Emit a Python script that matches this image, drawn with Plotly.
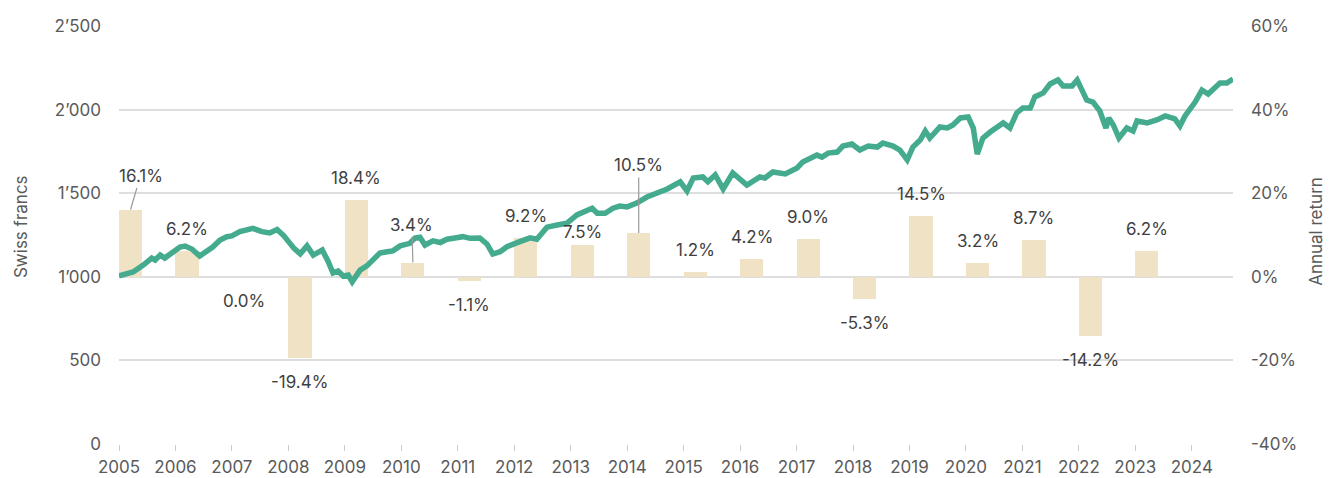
import plotly.graph_objects as go

# ---- data ----
years = list(range(2005, 2024))
annual_return = [16.1, 6.2, 0.0, -19.4, 18.4, 3.4, -1.1, 9.2, 7.5, 10.5,
                 1.2, 4.2, 9.0, -5.3, 14.5, 3.2, 8.7, -14.2, 6.2]

t = [2005.00, 2005.25, 2005.43, 2005.58, 2005.64, 2005.73, 2005.81, 2005.94,
     2006.08, 2006.17, 2006.29, 2006.43, 2006.66, 2006.79, 2006.91, 2007.00,
     2007.14, 2007.37, 2007.53, 2007.67, 2007.80, 2007.92, 2008.00, 2008.10,
     2008.21, 2008.33, 2008.44, 2008.60, 2008.70, 2008.79, 2008.88, 2008.97,
     2009.06, 2009.13, 2009.18, 2009.27, 2009.39, 2009.50, 2009.62, 2009.75,
     2009.85, 2009.98, 2010.15, 2010.24, 2010.33, 2010.42, 2010.56, 2010.69,
     2010.81, 2010.95, 2011.09, 2011.22, 2011.39, 2011.52, 2011.62, 2011.75,
     2011.87, 2012.10, 2012.28, 2012.40, 2012.58, 2012.76, 2012.93, 2013.11,
     2013.29, 2013.38, 2013.47, 2013.61, 2013.75, 2013.87, 2014.00, 2014.17,
     2014.35, 2014.53, 2014.71, 2014.94, 2015.06, 2015.17, 2015.34, 2015.43,
     2015.56, 2015.70, 2015.87, 2016.12, 2016.35, 2016.44, 2016.58, 2016.80,
     2017.01, 2017.11, 2017.36, 2017.45, 2017.56, 2017.72, 2017.82, 2017.98,
     2018.12, 2018.27, 2018.43, 2018.53, 2018.71, 2018.83, 2018.96, 2019.06,
     2019.19, 2019.28, 2019.36, 2019.54, 2019.67, 2019.77, 2019.90, 2020.04,
     2020.13, 2020.20, 2020.30, 2020.43, 2020.60, 2020.66, 2020.78, 2020.90,
     2021.01, 2021.14, 2021.22, 2021.37, 2021.49, 2021.63, 2021.72, 2021.88,
     2021.97, 2022.06, 2022.14, 2022.25, 2022.37, 2022.48, 2022.53, 2022.61,
     2022.71, 2022.85, 2022.96, 2023.03, 2023.21, 2023.38, 2023.53, 2023.70,
     2023.79, 2023.88, 2024.06, 2024.18, 2024.29, 2024.50, 2024.62, 2024.73]

value_chf = [1005, 1029, 1070, 1112, 1100, 1130, 1112, 1148,
             1178, 1184, 1166, 1124, 1178, 1220, 1240, 1245,
             1270, 1290, 1270, 1262, 1283, 1245, 1210, 1170,
             1137, 1185, 1130, 1160, 1095, 1023, 1035, 1005,
             1010, 970, 995, 1040, 1065, 1100, 1142, 1150,
             1155, 1185, 1200, 1232, 1237, 1190, 1215, 1205,
             1225, 1232, 1240, 1230, 1232, 1195, 1136, 1150,
             1180, 1210, 1233, 1225, 1297, 1310, 1320, 1370,
             1393, 1410, 1380, 1380, 1410, 1423, 1418, 1441,
             1477, 1500, 1525, 1568, 1514, 1591, 1597, 1568,
             1609, 1525, 1621, 1549, 1597, 1591, 1627, 1615,
             1651, 1687, 1728, 1716, 1740, 1746, 1782, 1794,
             1758, 1782, 1776, 1800, 1782, 1758, 1699, 1776,
             1818, 1872, 1830, 1896, 1890, 1908, 1950, 1956,
             1890, 1734, 1830, 1866, 1902, 1920, 1890, 1980,
             2010, 2010, 2076, 2100, 2153, 2177, 2141, 2141,
             2177, 2117, 2057, 2045, 1992, 1890, 1950, 1908,
             1830, 1890, 1872, 1932, 1920, 1938, 1962, 1944,
             1902, 1962, 2045, 2117, 2093, 2159, 2159, 2183]

chf_ticks = [0, 500, 1000, 1500, 2000, 2500]
chf_ticktext = ["0", "500", "1\u2019000", "1\u2019500", "2\u2019000", "2\u2019500"]
pct_ticks = [-40, -20, 0, 20, 40, 60]
year_ticks = list(range(2005, 2025))

# ---- style ----
BAR_W = 0.41
BAR_COLOR = "#f0e3c5"
LINE_COLOR = "#45ab8f"
GRID = "#dedede"
TICK_FONT = dict(family="Inter, sans-serif", size=17, color="#5a5a5a")
LABEL_FONT = dict(family="Inter, sans-serif", size=17, color="#3f3f3f")

# label tweaks (pixel offsets) for labels with leader lines / nudges
leader = {2005: (10, -34), 2010: (-1, -38), 2014: (0, -68)}
nudge = {2013: 13}

fig = go.Figure()
bar_x = [y + BAR_W / 2 for y in years]
fig.add_trace(go.Bar(x=bar_x, y=annual_return, width=BAR_W,
                     marker=dict(color=BAR_COLOR, line=dict(width=0)),
                     yaxis="y", hoverinfo="skip"))
fig.add_trace(go.Scatter(x=t, y=value_chf, mode="lines",
                         line=dict(color=LINE_COLOR, width=5.5, shape="linear"),
                         yaxis="y2", hoverinfo="skip"))

annotations = []
for yr, bx, v in zip(years, bar_x, annual_return):
    txt = f"{v:.1f}%"
    if yr in leader:
        ax, ay = leader[yr]
        annotations.append(dict(x=bx, y=v, xref="x", yref="y", text=txt,
                                showarrow=True, arrowhead=0, arrowwidth=1.2,
                                arrowcolor="#9a9a9a", ax=ax, ay=ay,
                                font=LABEL_FONT, borderpad=2))
    else:
        shift = nudge.get(yr, 22) if v > 0 else -24
        annotations.append(dict(x=bx, y=v, xref="x", yref="y", text=txt,
                                showarrow=False, yshift=shift,
                                yanchor="middle", font=LABEL_FONT))

annotations.append(dict(text="Swiss francs", textangle=-90, xref="paper",
                        yref="paper", x=-0.0885, y=0.52, showarrow=False,
                        font=TICK_FONT, xanchor="center", yanchor="middle"))
annotations.append(dict(text="Annual return", textangle=-90, xref="paper",
                        yref="paper", x=1.0745, y=0.51, showarrow=False,
                        font=TICK_FONT, xanchor="center", yanchor="middle"))

fig.update_layout(
    width=1335, height=478,
    margin=dict(l=119, r=102, t=26, b=34, autoexpand=False),
    paper_bgcolor="white", plot_bgcolor="white",
    showlegend=False, bargap=0,
    annotations=annotations,
    xaxis=dict(range=[2005, 2024.73], tickvals=year_ticks,
               ticktext=[str(y) for y in year_ticks],
               showgrid=False, zeroline=False, showline=False,
               ticks="outside", ticklen=6, tickwidth=1.2, tickcolor="#cccccc",
               tickfont=TICK_FONT, ticklabelstandoff=2, automargin=False),
    yaxis=dict(range=[-40, 60], tickvals=pct_ticks,
               ticktext=[f"{v}%" for v in pct_ticks],
               side="right", showgrid=True, gridcolor=GRID, gridwidth=1.5,
               zeroline=False, showline=False, tickfont=TICK_FONT,
               ticklabelstandoff=17, automargin=False),
    yaxis2=dict(range=[0, 2500], tickvals=chf_ticks, ticktext=chf_ticktext,
                side="left", overlaying="y", showgrid=False, zeroline=False,
                showline=False, tickfont=TICK_FONT, ticklabelstandoff=17,
                automargin=False),
)

fig.write_html("out.html",
               config={"displayModeBar": False},
               post_script="document.body.style.margin='0';")
